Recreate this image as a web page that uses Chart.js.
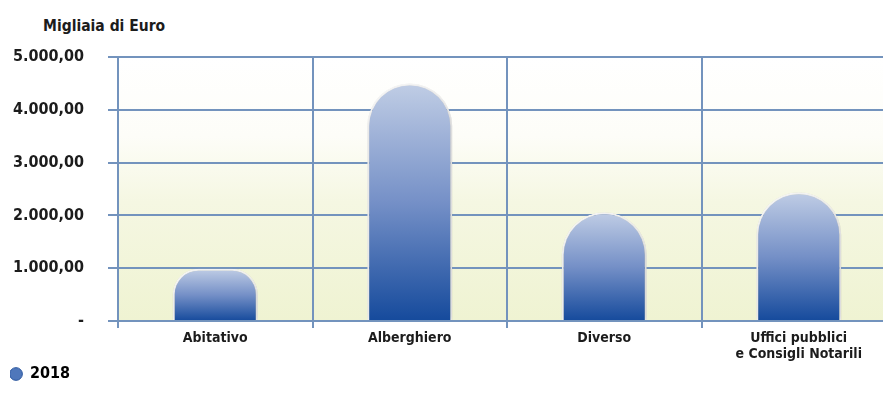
<!DOCTYPE html>
<html>
<head>
  <title>Migliaia di Euro 2018</title>
  <script src="https://cdn.jsdelivr.net/npm/chart.js"></script>
  <style>
    body { margin: 0; background: #fff; overflow: hidden; width: 883px; height: 402px; position: relative; }
    .unit { position: absolute; left: 43px; top: 17px; font: bold 15.5px 'DejaVu Sans Condensed', 'DejaVu Sans', sans-serif; color: #1c1c1c; }
    .chart-container { position: absolute; left: 0; top: 0; width: 910px; height: 402px; }
  </style>
</head>
<body>
  <div class="unit">Migliaia di Euro</div>
  <div class="chart-container"><canvas id="chart"></canvas></div>

  <script>
    const categories = ['Abitativo', 'Alberghiero', 'Diverso', ['Uffici pubblici', 'e Consigli Notarili']];
    const values2018 = [990, 4500, 2060, 2440];
    const yTicks = [0, 1000, 2000, 3000, 4000, 5000];
    const seriesName = '2018';

    const FONT = "'DejaVu Sans Condensed', 'DejaVu Sans', sans-serif";
    const GRID = '#7393bd';

    // number like 5.000,00 ; zero shown as "-"
    const fmt = v => v === 0 ? '-' : v.toLocaleString('de-DE', { minimumFractionDigits: 2, maximumFractionDigits: 2 });

    const barFill = ctx => {
      const chart = ctx.chart;
      if (ctx.type !== 'data' || !chart.chartArea) return '#4a70b6';
      const y = chart.scales.y;
      const top = y.getPixelForValue(ctx.parsed.y), base = y.getPixelForValue(0);
      const g = chart.ctx.createLinearGradient(0, top, 0, base);
      g.addColorStop(0, '#c0cde5');
      g.addColorStop(0.5, '#7590c7');
      g.addColorStop(1, '#154a9c');
      return g;
    };

    const plotBackground = {
      id: 'plotBackground',
      beforeDraw(chart) {
        const { ctx, chartArea: a } = chart;
        const g = ctx.createLinearGradient(0, a.top, 0, a.bottom);
        g.addColorStop(0, '#ffffff');
        g.addColorStop(0.3, '#fdfdf8');
        g.addColorStop(0.55, '#f5f7e2');
        g.addColorStop(1, '#eff3d2');
        ctx.save();
        ctx.fillStyle = g;
        ctx.fillRect(a.left, a.top, a.right - a.left, a.bottom - a.top);
        ctx.restore();
      }
    };

    const barShadow = {
      id: 'barShadow',
      beforeDatasetsDraw(chart) {
        const ctx = chart.ctx;
        ctx.save();
        ctx.shadowColor = 'rgba(0,0,0,0.28)';
        ctx.shadowBlur = 7;
        ctx.shadowOffsetX = 1;
        ctx.shadowOffsetY = 2;
      },
      afterDatasetsDraw(chart) { chart.ctx.restore(); }
    };

    new Chart(document.getElementById('chart').getContext('2d'), {
      type: 'bar',
      data: {
        labels: categories,
        datasets: [{
          label: seriesName,
          data: values2018,
          backgroundColor: barFill,
          borderColor: '#ffffff',
          borderWidth: 2,
          borderSkipped: 'bottom',
          borderRadius: { topLeft: 43, topRight: 43 },
          barPercentage: 0.437,
          categoryPercentage: 1
        }]
      },
      options: {
        responsive: true,
        maintainAspectRatio: false,
        animation: false,
        layout: { padding: { top: 57, left: 10, right: 14, bottom: 10 } },
        plugins: {
          tooltip: { enabled: false },
          legend: {
            position: 'bottom',
            align: 'start',
            labels: {
              usePointStyle: true,
              pointStyle: 'circle',
              boxWidth: 12,
              boxHeight: 9,
              padding: 0,
              color: '#1c1c1c',
              font: { family: FONT, size: 16, weight: 'bold' },
              generateLabels: () => [{ text: seriesName, fillStyle: '#4f77bb', strokeStyle: '#2c579f', lineWidth: 1, pointStyle: 'circle', datasetIndex: 0 }]
            }
          }
        },
        scales: {
          x: {
            offset: true,
            grid: { offset: true, color: GRID, lineWidth: 2, tickLength: 7 },
            border: { color: GRID, width: 2 },
            ticks: { color: '#1c1c1c', padding: 3, maxRotation: 0, font: { family: FONT, size: 14, weight: 'bold', lineHeight: 1.1 } },
            afterFit: s => { s.height = 45; }
          },
          y: {
            min: 0,
            max: 5000,
            afterBuildTicks: s => { s.ticks = yTicks.map(v => ({ value: v })); },
            grid: { color: GRID, lineWidth: 2, tickLength: 10 },
            border: { color: GRID, width: 2 },
            ticks: { color: '#1c1c1c', padding: 24, callback: v => fmt(v), font: { family: FONT, size: 16, weight: 'bold' } },
            afterFit: s => { s.width = 108; }
          }
        }
      },
      plugins: [plotBackground, barShadow]
    });
  </script>
</body>
</html>
